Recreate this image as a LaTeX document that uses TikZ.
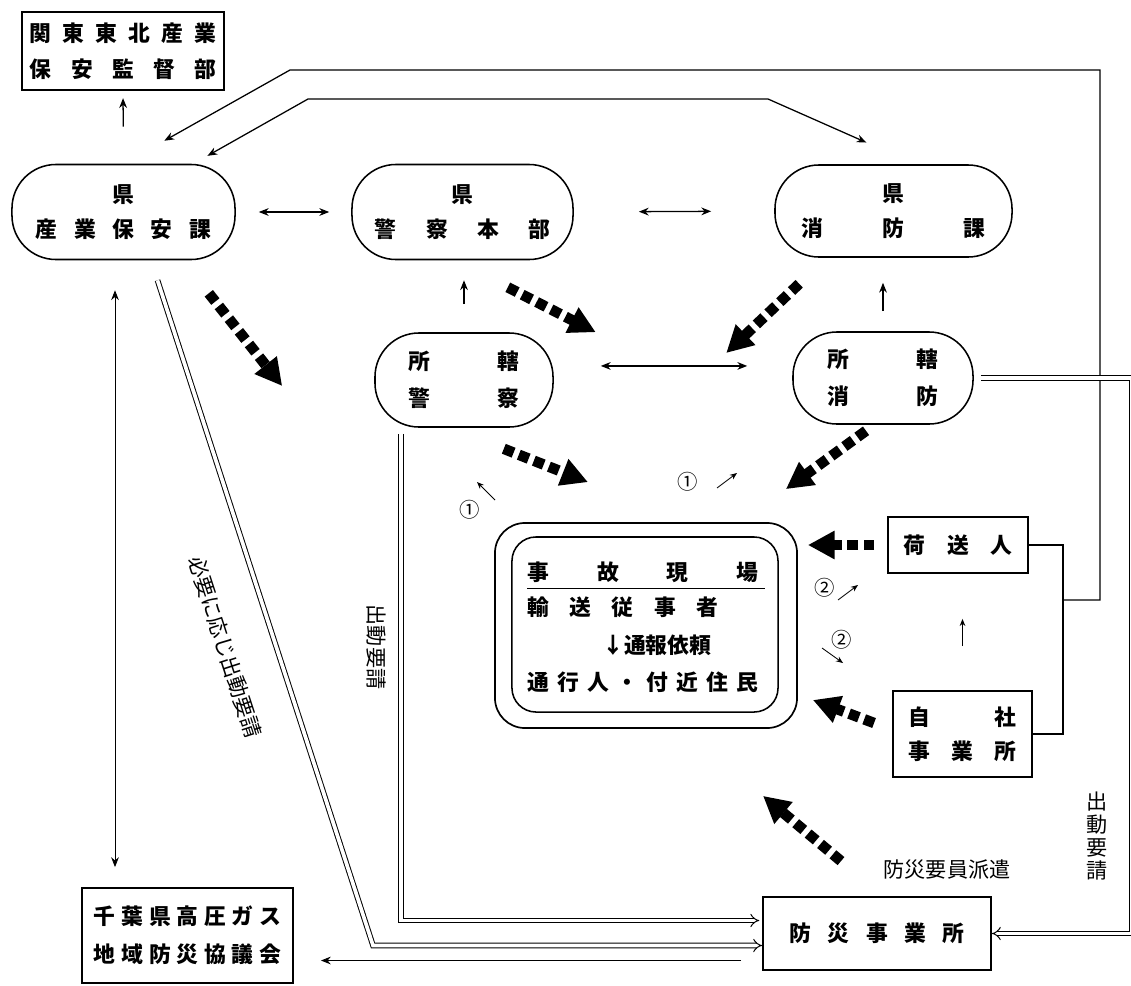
\documentclass[tikz,border=0pt]{standalone}
\usepackage{fontspec}
\newfontfamily\jp{Noto Sans CJK JP}
\usetikzlibrary{arrows.meta}
\tikzset{
  box/.style={draw, line width=1.3pt, inner sep=0pt, align=center,
    font=\jp\bfseries\fontsize{15.5}{19}\selectfont},
  pill/.style={box, line width=1.1pt, rounded corners=1.1cm},
  jtxt/.style={inner sep=0pt, font=\jp\bfseries\fontsize{15.5}{19}\selectfont},
  lbl/.style={inner sep=0pt, align=center, font=\jp\fontsize{15}{16.5}\selectfont},
  num/.style={inner sep=0pt, font=\jp\fontsize{14.5}{16}\selectfont},
  arr/.style={line width=0.9pt, -{Stealth[length=7pt,width=5.5pt]}},
  barr/.style={arr, {Stealth[length=7pt,width=5.5pt]}-{Stealth[length=7pt,width=5.5pt]}},
  tarr/.style={line width=0.6pt, -{Stealth[length=5pt,width=4pt]}},
  dbl/.style={double, double distance=2.6pt, line width=0.7pt, -{Implies}},
  bigdot/.style={line width=7.5pt, dash pattern=on 7.5pt off 4pt,
    -{Triangle[length=19pt,width=19pt]}}
}
\begin{document}
\begin{tikzpicture}[x=0.025cm, y=-0.025cm]
  \useasboundingbox (0,0) rectangle (1131,986);

  \node[box, line width=1.6pt, minimum width=5.05cm, minimum height=1.95cm] (kanto) at (123,51)
    {\makebox[4.65cm]{関\hfill 東\hfill 東\hfill 北\hfill 産\hfill 業}\\[7pt]
     \makebox[4.65cm]{保\hfill 安\hfill 監\hfill 督\hfill 部}};
  \node[pill, minimum width=5.575cm, minimum height=2.375cm] (sangyo) at (123.5,212)
    {県\\[6pt]\makebox[4.375cm]{産\hfill 業\hfill 保\hfill 安\hfill 課}};
  \node[pill, minimum width=5.525cm, minimum height=2.375cm] (keisatsu) at (462.5,212)
    {県\\[6pt]\makebox[4.375cm]{警\hfill 察\hfill 本\hfill 部}};
  \node[pill, minimum width=5.925cm, minimum height=2.3cm] (shobo) at (893.5,211)
    {県\\[6pt]\makebox[4.575cm]{消\hfill 防\hfill 課}};
  \node[pill, minimum width=4.45cm, minimum height=2.35cm] (kankeisatsu) at (464,380)
    {\makebox[2.75cm]{所\hfill 轄}\\[7pt]\makebox[2.75cm]{警\hfill 察}};
  \node[pill, minimum width=4.5cm, minimum height=2.3cm] (kanshobo) at (883,378)
    {\makebox[2.75cm]{所\hfill 轄}\\[7pt]\makebox[2.75cm]{消\hfill 防}};

  \node[box, line width=1.2pt, rounded corners=0.75cm, minimum width=7.55cm, minimum height=5.125cm] (genba) at (646,625.5) {};
  \node[box, line width=1.1pt, rounded corners=0.6cm, minimum width=6.65cm, minimum height=4.375cm] (genbain) at (645,624.5) {};
  \node[jtxt, anchor=west] (g1) at (527,572) {\makebox[5.775cm]{事\hfill 故\hfill 現\hfill 場}};
  \node[jtxt, anchor=west] (g2) at (527,607) {\makebox[4.775cm]{輸\hfill 送\hfill 従\hfill 事\hfill 者}};
  \node[jtxt, anchor=west] (g3) at (602,645) {↓通報依頼};
  \node[jtxt, anchor=west] (g4) at (527,682)
    {\makebox[5.775cm]{通\hfill 行\hfill 人\hfill ・\hfill 付\hfill 近\hfill 住\hfill 民}};
  \draw[line width=1.1pt] ([yshift=-4pt]g1.south west) -- ([xshift=0.15cm,yshift=-4pt]g1.south east);

  \node[box, minimum width=3.5cm, minimum height=1.4cm] (nisounin) at (958,545)
    {\makebox[2.7cm]{荷\hfill 送\hfill 人}};
  \node[box, minimum width=3.475cm, minimum height=2.15cm] (jisha) at (962.5,734)
    {\makebox[2.7cm]{自\hfill 社}\\[5pt]\makebox[2.7cm]{事\hfill 業\hfill 所}};
  \node[box, minimum width=5.275cm, minimum height=2.375cm] (kyogikai) at (187.5,935.5)
    {\makebox[4.675cm]{千\hfill 葉\hfill 県\hfill 高\hfill 圧\hfill ガ\hfill ス}\\[8pt]
     \makebox[4.675cm]{地\hfill 域\hfill 防\hfill 災\hfill 協\hfill 議\hfill 会}};
  \node[box, minimum width=5.7cm, minimum height=1.825cm] (bosai) at (877,933.5)
    {\makebox[4.375cm]{防\hfill 災\hfill 事\hfill 業\hfill 所}};

  \node[lbl, rotate=-72] (hitsuyo) at (225,647) {必要に応じ出動要請};
  \node[lbl, rotate=-90] (yoseil) at (376,647) {出動要請};
  \node[lbl] (yoseir) at (1097,836) {出\\動\\要\\請};
  \node[lbl] (haken) at (947,870) {防災要員派遣};
  \node[num] (c1a) at (470,510) {①};
  \node[num] (c1b) at (688,482) {①};
  \node[num] (c2a) at (825,588) {②};
  \node[num] (c2b) at (842,640) {②};

  \draw[arr, shorten <=0.925cm, shorten >=0.175cm] (sangyo.north) -- (kanto.south);
  \draw[barr, shorten <=0.575cm, shorten >=0.55cm] (sangyo.east) -- (keisatsu.west);
  \draw[barr, shorten <=1.625cm, shorten >=1.575cm] (keisatsu.east) -- (shobo.west);
  \draw[arr, shorten <=0.7cm, shorten >=0.5cm] (kankeisatsu.north) -- (kankeisatsu.north |- keisatsu.south);
  \draw[arr, shorten <=0.5cm, shorten >=0.625cm] (kanshobo.north) -- (kanshobo.north |- shobo.south);
  \draw[barr, shorten <=1.175cm, shorten >=1.125cm] ([yshift=10pt]kankeisatsu.east)
    -- ([yshift=10pt]kankeisatsu.east -| kanshobo.west);
  \draw[tarr, shorten <=1.1cm, shorten >=1.125cm] (jisha.north) -- (jisha.north |- nisounin.south);
  \coordinate (vx) at (115,600);
  \draw[barr, line width=0.6pt, shorten <=0.75cm, shorten >=0.5cm] (sangyo.south -| vx) -- (kyogikai.north -| vx);

  \coordinate (jn) at (1062,600);
  \draw[line width=1pt] (nisounin.east) -- ++(34,0) |- (jisha.east);
  \draw[arr, shorten >=1.17cm] (jn) -- (1100,600) -- (1100,70) -- (290,70) -- (sangyo.north);
  \draw[barr, shorten <=0.4cm, shorten >=1.34cm] ([xshift=1.75cm]sangyo.north) -- (308,99)
    -- (768,99) -- ([xshift=0.55cm]shobo.north);

  \draw[dbl] ([xshift=0.85cm,yshift=-0.5cm]sangyo.south) -- (373,945.5) -- ([yshift=-0.3cm]bosai.west);
  \draw[dbl, shorten >=2pt] ([xshift=-1.575cm,yshift=-0.15cm]kankeisatsu.south) |- ([yshift=0.325cm]bosai.west);
  \draw[dbl, shorten <=0.175cm] (kanshobo.east) -- (1132,378) -- (1132,933.5) -- (bosai.east);
  \draw[arr, line width=0.6pt, shorten <=0.525cm, shorten >=0.675cm] ([yshift=-0.675cm]bosai.west)
    -- ([yshift=-0.675cm]bosai.west -| kyogikai.east);

  \draw[bigdot] ([shift={(-27,33)}]sangyo.south east) -- ([shift={(-92,6)}]kankeisatsu.west);
  \draw[bigdot] ([shift={(-66,27)}]keisatsu.south east) -- ([shift={(42,0)}]kankeisatsu.north east);
  \draw[bigdot] ([shift={(25,26)}]shobo.south west) -- ([shift={(-66,-25)}]kanshobo.west);
  \draw[bigdot] ([shift={(-50,21)}]kankeisatsu.south east) -- ([shift={(-58,-40)}]genba.north);
  \draw[bigdot] ([shift={(-17,6)}]kanshobo.south) -- ([shift={(-12,-33)}]genba.north east);
  \draw[bigdot, shorten <=0.325cm, shorten >=0.25cm] (nisounin.west) -- (nisounin.west -| genba.east);
  \draw[bigdot] ([shift={(-18,-11)}]jisha.west) -- ([shift={(15,74.5)}]genba.east);
  \draw[bigdot] ([shift={(-36,-35)}]bosai.north) -- ([shift={(117,67)}]genba.south);

  \draw[tarr] ([shift={(25,-10)}]c1a.center) -- ++(-18,-18);
  \draw[tarr] ([shift={(29,6)}]c1b.center) -- ++(20,-15);
  \draw[tarr] ([shift={(13,12)}]c2a.center) -- ++(20,-15);
  \draw[tarr] ([shift={(-20,8)}]c2b.center) -- ++(21,15);
\end{tikzpicture}
\end{document}
